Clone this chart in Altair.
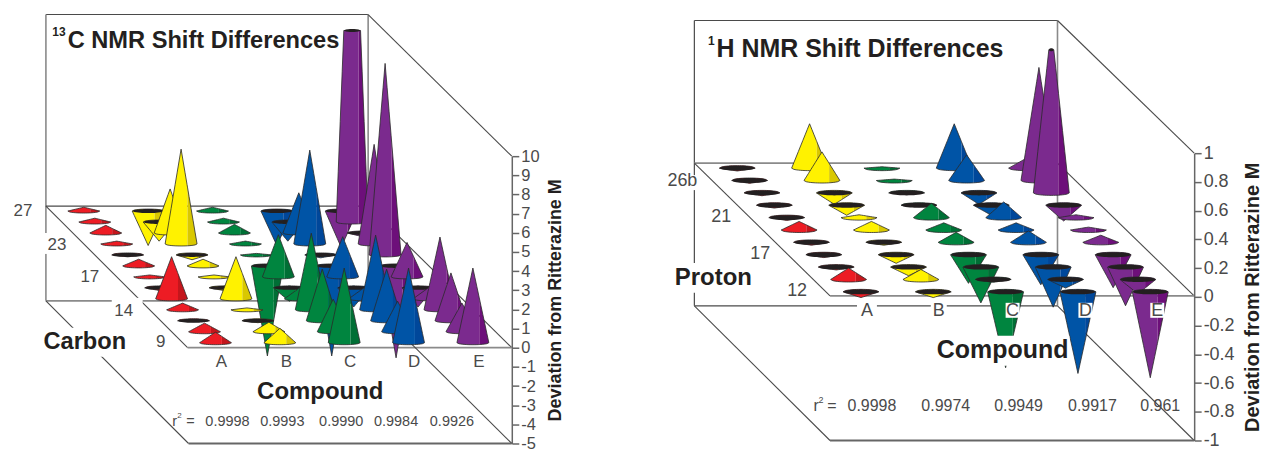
import numpy as np
import pandas as pd
import altair as alt

compounds = ["A", "B", "C", "D", "E"]

# Deviation from Ritterazine M, rows run from the back of the floor to the front
carbon_A = [0.2, 0.2, 0.4, 0.15, -0.1, 0.35, 0.1, -0.15, 2.2, 0.35, -0.05, 0.45, 0.55]
carbon_B = [-1.8, -1.0, 2.3, 4.95, -0.25, 0.35, 0.1, -0.15, 2.2, 0.1, -0.1, 0.5, 0.75]
carbon_C = [0.2, 0.2, 0.45, 0.15, 0.08, -4.7, 2.2, -0.7, 0.6, 4.0, 2.7, 1.7, 3.9]
carbon_D = [-1.8, -1.0, 2.1, 4.9, -0.15, -4.7, 2.1, -1.0, 0.6, 3.9, 2.7, 1.6, 3.9]
carbon_E = [-1.9, 21.0, -0.2, 5.2, 10.0, -4.8, 1.8, -1.0, 0.6, 3.8, 2.5, 1.5, 3.9]

proton_A = [-0.02, -0.02, -0.02, -0.02, -0.02, 0.06, -0.02, -0.02, -0.02, 0.08, -0.04]
proton_B = [0.31, 0.2, -0.08, -0.07, 0.02, 0.06, -0.02, -0.06, -0.06, 0.07, -0.04]
proton_C = [0.01, 0.01, -0.01, -0.01, 0.1, 0.05, 0.07, -0.2, -0.25, -0.02, -0.53]
proton_D = [0.31, 0.18, -0.08, -0.07, 0.11, 0.05, 0.08, -0.21, -0.28, -0.06, -0.57]
proton_E = [0.07, 0.79, 1.16, -0.11, 0.02, 0.02, 0.05, -0.23, -0.27, -0.1, -0.6]

carbon_r2 = ["0.9998", "0.9993", "0.9990", "0.9984", "0.9926"]
proton_r2 = ["0.9998", "0.9974", "0.9949", "0.9917", "0.961"]

carbon_ticks = list(range(-5, 11))
proton_ticks = [-1, -0.8, -0.6, -0.4, -0.2, 0, 0.2, 0.4, 0.6, 0.8, 1]

light = ["#ED1C24", "#FFF200", "#00853F", "#0054A6", "#7B2A8E"]
dark = ["#C4161C", "#D9C800", "#006F35", "#00479A", "#6D0F7A"]
BLACK = "#231F20"
OUT = "#2A2A2A"
GREY = "#8A8A8A"
THIN = "#4A4A4A"
TXT = "#4A4A4A"
FONT = "Liberation Sans"
H = 437


def cones(series, x0, y0, dcol, drow, unit, cap, w, e):
    rows = []
    gid = [0]

    def poly(ts, top, bot, fill, stroke):
        g = f"{gid[0]:05d}"
        gid[0] += 1
        for x, a, b in zip(ts, top, bot):
            rows.append(dict(g=g, x=float(x), y=float(a), y2=float(b), f=fill, s=stroke))

    nrows = len(series[0])
    for r in range(nrows):
        for c, vals in enumerate(series):
            v = vals[r]
            xc = x0 + dcol * c + drow * r
            yb = y0 + drow * r
            k = max(0.0, 1 - cap / abs(v))
            ts = np.unique(np.concatenate([np.linspace(-1, 1, 17), [0.4, k, -k]]))
            ell = np.sqrt(np.clip(1 - ts ** 2, 0, 1)) * e
            hgt = np.minimum(abs(v) * (1 - np.abs(ts)), cap) * unit
            if v >= 0:
                top, bot = yb - hgt, yb + ell
            else:
                top, bot = yb - ell, yb + hgt
            xs = xc + ts * w
            m = ts <= 0.4
            n = ts >= 0.4
            poly(xs[m], top[m], bot[m], light[c], "transparent")
            poly(xs[n], top[n], bot[n], dark[c], "transparent")
            poly(xs, top, bot, "transparent", OUT)
            if v < 0:
                poly(xs, yb - ell, yb + ell, BLACK, "transparent")
            elif k > 0:
                cs = np.linspace(-1, 1, 9)
                poly(xc + cs * k * w, yb - cap * unit - np.sqrt(1 - cs ** 2) * 1.5,
                     yb - cap * unit + np.sqrt(1 - cs ** 2) * 1.5, BLACK, "transparent")
    return pd.DataFrame(rows)


def panel(xmin, xmax, df, segs, under, over, bold, plain, vdom, vrange, ticks, lab, title, tsize, pad):
    xs = alt.Scale(domain=[xmin, xmax], range=[0, xmax - xmin], nice=False, zero=False)
    ys = alt.Scale(domain=[8 + H, 8], range=[H, 0], nice=False, zero=False)
    X = lambda f="x": alt.X(f"{f}:Q", scale=xs, axis=None)
    Y = lambda f="y": alt.Y(f"{f}:Q", scale=ys, axis=None, stack=False)

    rules = alt.Chart(pd.DataFrame(segs, columns=["x", "y", "x2", "y2", "c", "w"])).mark_rule().encode(
        x=X(), y=Y(), x2="x2:Q", y2="y2:Q",
        color=alt.Color("c:N", scale=None), strokeWidth=alt.StrokeWidth("w:Q", scale=None))

    def boxes(b):
        return alt.Chart(pd.DataFrame(b, columns=["x", "x2", "y", "y2"])).mark_rect(fill="white").encode(
            x=X(), x2="x2:Q", y=Y(), y2="y2:Q")

    area = alt.Chart(df).mark_area(strokeWidth=0.8, interpolate="linear").encode(
        x=X(), y=Y(), y2="y2:Q",
        detail="g:N",
        fill=alt.Fill("f:N", scale=None),
        stroke=alt.Stroke("s:N", scale=None))

    def texts(t, weight, color):
        return alt.Chart(pd.DataFrame(t, columns=["x", "y", "t", "z"])).mark_text(
            font=FONT, fontWeight=weight, color=color, baseline="middle", align="center").encode(
            x=X(), y=Y(), text="t:N", size=alt.Size("z:Q", scale=None))

    axis_layer = alt.Chart(pd.DataFrame({"v": ticks})).mark_point(opacity=0).encode(
        y=alt.Y("v:Q", scale=alt.Scale(domain=vdom, range=vrange, nice=False, zero=False),
                axis=alt.Axis(orient="right", values=ticks, grid=False, tickSize=7, tickWidth=1.5,
                              tickColor="#666666", domainColor="#666666", domainWidth=1.5,
                              labelFont=FONT, labelFontSize=lab, labelColor=TXT, labelPadding=2,
                              labelOverlap=False, labelFlush=False,
                              labelExpr="replace(format(datum.value,'~g'),'\u2212','-')",
                              title=title, titleFont=FONT, titleFontWeight="bold",
                              titleFontSize=tsize, titleColor=BLACK, titleAngle=270,
                              titlePadding=pad)))

    return alt.layer(rules, boxes(under), area, boxes(over), texts(plain, "normal", TXT),
                     texts(bold, "bold", BLACK), axis_layer).resolve_scale(y="independent").properties(
        width=xmax - xmin, height=H)


# ---- left panel
c_df = cones([carbon_A, carbon_B, carbon_C, carbon_D, carbon_E], 84, 211, 64.5, 11, 19.2, 10, 16, 2)
c_segs = [
    (46, 14, 369, 14, THIN, 1.2), (46, 14, 46, 301, GREY, 1.6), (369, 14, 369, 301, GREY, 1.6),
    (46, 206, 369, 206, THIN, 1.2), (46, 301, 369, 301, GREY, 1.6),
    (46, 206, 188, 348, THIN, 1.1), (369, 206, 513, 348, THIN, 1.1),
    (188, 348, 513, 348, GREY, 1.8), (46, 301, 189, 444, THIN, 1.1),
    (369, 14, 513, 156, THIN, 1.1), (369, 301, 513, 444, THIN, 1.1),
    (189, 444, 513, 444, "#666666", 1.8),
]
c_under = [(44, 128, 328, 357), (112, 143, 298, 323), (44, 68, 233, 254)]
c_plain = [(23, 211, "27", 17), (57, 245, "23", 17), (90, 277, "17", 17), (124, 311, "14", 17),
           (161, 342, "9", 17),
           (175, 422, "r", 14.5), (180, 416, "2", 8), (191, 422, "=", 14.5)]
for t, xp in zip(compounds, [222, 287, 351, 415, 480]):
    c_plain.append((xp, 362, t, 17))
for t, xp in zip(carbon_r2, [228, 283, 342, 397, 453]):
    c_plain.append((xp, 422, t, 14.5))
c_bold = [(59, 32, "13", 12), (204, 41, "C NMR Shift Differences", 23.7),
          (85, 342, "Carbon", 23.7), (321, 392, "Compound", 24)]

left = panel(8, 513, c_df, c_segs, c_under, [], c_bold, c_plain, [-5, 10], [436, 148],
             carbon_ticks, 16.5, "Deviation from Ritterazine M", 18, 25)

# ---- right panel
p_df = cones([proton_A, proton_B, proton_C, proton_D, proton_E], 738, 168, 72.5, 12.4, 143.5, 1, 18, 2.5)
p_segs = [
    (695, 20, 1059, 20, THIN, 1.2), (695, 20, 695, 306, THIN, 1.2), (1059, 20, 1059, 306, GREY, 1.6),
    (695, 163, 1059, 163, GREY, 1.6), (695, 306, 1059, 306, THIN, 1.2),
    (695, 163, 831, 296, THIN, 1.1), (1059, 163, 1196, 296, THIN, 1.1),
    (831, 296, 1196, 296, GREY, 1.8), (695, 306, 831, 441, THIN, 1.1),
    (1059, 20, 1196, 153, THIN, 1.1), (1059, 306, 1196, 441, THIN, 1.1),
    (831, 441, 1196, 441, "#666666", 1.8),
]
p_under = [(668, 699, 175, 190), (672, 757, 263, 293)]
p_over = [(858, 878, 302, 320), (932, 948, 302, 320), (1007, 1021, 303, 318), (1080, 1094, 303, 318),
          (1152, 1166, 303, 318), (935, 1071, 336, 366)]
p_plain = [(683, 181, "26b", 18), (722, 217, "21", 18), (761, 254, "17", 18), (798, 291, "12", 18),
           (817, 406, "r", 16), (822, 400, "2", 9), (833, 406, "=", 16)]
for t, xp in zip(compounds, [868, 940, 1014, 1087, 1159]):
    p_plain.append((xp, 311, t, 18))
for t, xp in zip(proton_r2, [873, 947, 1020, 1094, 1162]):
    p_plain.append((xp, 406, t, 16))
p_bold = [(712, 41, "1", 12), (861, 49, "H NMR Shift Differences", 25),
          (714, 278, "Proton", 24), (1004, 350, "Compound", 25)]

right = panel(640, 1196, p_df, p_segs, p_under, p_over, p_bold, p_plain, [-1, 1], [433, 145],
              proton_ticks, 18, "Deviation from Ritterazine M", 20, 28)

chart = alt.hconcat(left, right, spacing=75).properties(padding=0).configure_view(stroke=None)
chart.save("out.html", embed_options={"renderer": "svg", "actions": False})
